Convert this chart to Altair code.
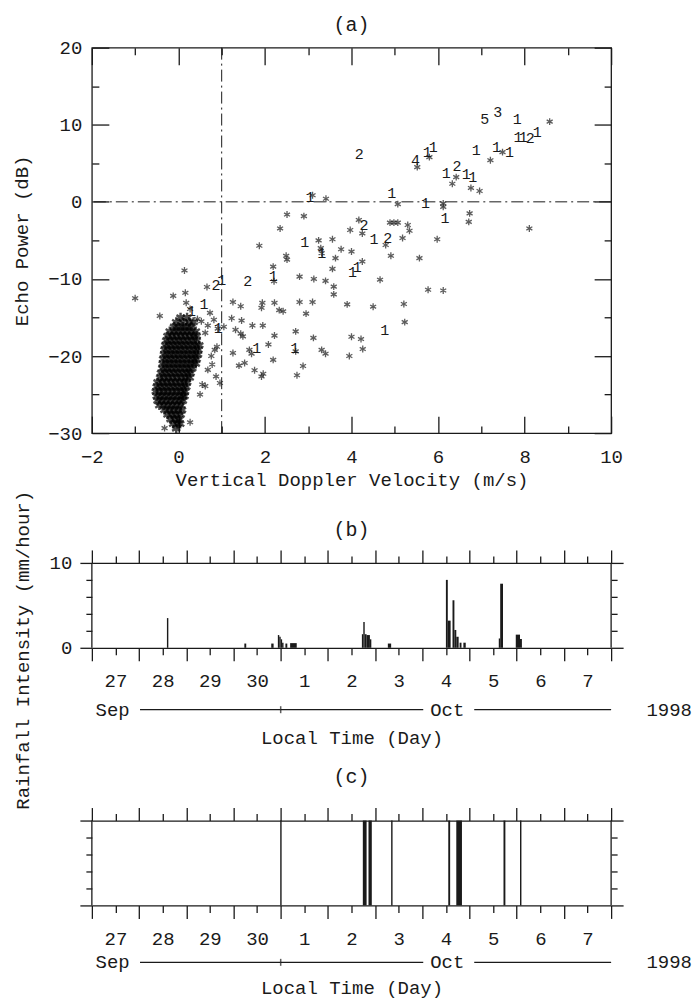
import altair as alt
import pandas as pd

FONT = "Liberation Mono"
INK = "#1a1a1a"

# ---------------- panel (a) data ----------------
x_ticks_a = [-2, 0, 2, 4, 6, 8, 10]
x_minor_a = [-2, -1, 0, 1, 2, 3, 4, 5, 6, 7, 8, 9, 10]
y_ticks_a = [-30, -20, -10, 0, 10, 20]
y_minor_a = [-30, -25, -20, -15, -10, -5, 0, 5, 10, 15, 20]

star_x = [8.58, 5.52, 5.80, 7.21, 7.49, 6.33, 6.42, 6.76, 6.96, 5.07, 6.12, 6.12, 6.73, 6.71, 8.11,
          3.10, 3.41, 2.51, 2.90, 2.35, 4.17, 3.97, 4.25, 4.79, 4.89, 4.98, 5.07, 5.30, 5.34, 5.18,
          5.98, 3.24, 3.56, 3.29, 3.31, 3.76, 4.00, 3.63, 4.91, 5.57, 1.87, 2.49, 2.51, 4.25, 3.56,
          4.66, 0.14, 2.19, 2.21, 0.66, 2.80, 3.13, 3.40, 3.59, 3.59, 5.77, 6.12, -1.00, -0.43, -0.12,
          0.16, 0.18, 0.27, 0.73, 0.82, 1.26, 1.44, 1.23, 1.46, 1.32, 1.44, 1.49, 1.05, 0.91, 1.71,
          1.95, 1.94, 1.92, 2.22, 2.33, 2.42, 2.22, 2.08, 1.64, 1.69, 1.26, 1.40, 1.53, 1.76, 1.92,
          1.96, 2.19, 2.71, 2.71, 2.74, 2.88, 2.80, 3.10, 2.95, 3.12, 3.31, 3.40, 3.90, 4.50, 5.21,
          5.23, 4.00, 4.22, 4.26, 3.95, 0.44, 0.53, 0.62, 0.68, 0.84, 0.89, 0.68, 0.87, 0.55, 0.50,
          0.76, 0.78, 0.62, 0.27, -0.32, 0.96]
star_y = [10.4, 4.5, 5.8, 5.4, 6.45, 2.35, 3.2, 1.8, 1.4, -0.3, -0.2, -0.65, -1.5, -2.6, -3.45,
          0.85, 0.4, -1.65, -1.85, -3.45, -2.35, -3.65, -4.1, -5.6, -2.7, -2.7, -2.7, -3.0, -3.75, -4.7,
          -4.85, -5.0, -4.85, -6.0, -6.65, -6.15, -6.45, -7.3, -7.0, -7.3, -5.7, -7.0, -7.5, -7.75, -8.7,
          -10.1, -8.9, -8.4, -10.3, -11.05, -9.7, -10.0, -10.25, -11.0, -12.0, -11.4, -11.5, -12.5, -14.8, -12.2,
          -11.8, -13.1, -13.9, -14.4, -15.3, -13.0, -13.55, -15.1, -15.4, -16.6, -17.1, -17.45, -16.2, -16.45, -16.05,
          -16.05, -13.1, -13.75, -13.1, -14.05, -14.2, -17.35, -18.5, -19.2, -19.7, -19.6, -21.25, -20.9, -21.85, -22.65,
          -22.3, -20.5, -16.8, -19.4, -22.5, -21.3, -13.0, -13.0, -14.5, -17.65, -19.2, -19.7, -13.3, -13.6, -13.25,
          -15.6, -17.5, -17.8, -19.1, -20.0, -15.2, -15.5, -17.0, -16.05, -19.2, -18.8, -21.8, -22.65, -23.7, -25.0,
          -20.0, -21.1, -23.9, -28.6, -29.35, -23.5]

# dense cluster near zero velocity: one row of x readings per echo-power level
blob_levels = [-15.0, -15.6, -16.2, -16.8, -17.4, -18.0, -18.6, -19.2, -19.8, -20.4, -21.0, -21.6, -22.2,
               -22.8, -23.4, -24.0, -24.6, -25.2, -25.8, -26.4, -27.0, -27.6, -28.2, -28.8, -29.4]
blob_rows = [
    [0.05, 0.2],
    [-0.05, 0.1, 0.25, 0.35],
    [-0.1, 0.0, 0.1, 0.2, 0.3],
    [-0.2, -0.1, 0.0, 0.1, 0.2, 0.3, 0.4],
    [-0.25, -0.15, -0.05, 0.05, 0.15, 0.25, 0.35, 0.42],
    [-0.28, -0.18, -0.08, 0.02, 0.12, 0.22, 0.32, 0.42],
    [-0.3, -0.2, -0.1, 0.0, 0.1, 0.2, 0.3, 0.4, 0.48],
    [-0.32, -0.22, -0.12, -0.02, 0.08, 0.18, 0.28, 0.38, 0.46],
    [-0.33, -0.23, -0.13, -0.03, 0.07, 0.17, 0.27, 0.37, 0.45],
    [-0.35, -0.25, -0.15, -0.05, 0.05, 0.15, 0.25, 0.35, 0.42],
    [-0.36, -0.26, -0.16, -0.06, 0.04, 0.14, 0.24, 0.34, 0.4],
    [-0.37, -0.27, -0.17, -0.07, 0.03, 0.13, 0.23, 0.32],
    [-0.4, -0.3, -0.2, -0.1, 0.0, 0.1, 0.2, 0.28],
    [-0.42, -0.32, -0.22, -0.12, -0.02, 0.08, 0.18, 0.26],
    [-0.48, -0.38, -0.28, -0.18, -0.08, 0.02, 0.12, 0.2],
    [-0.5, -0.4, -0.3, -0.2, -0.1, 0.0, 0.1, 0.18],
    [-0.52, -0.42, -0.32, -0.22, -0.12, -0.02, 0.08, 0.15],
    [-0.5, -0.4, -0.3, -0.2, -0.1, 0.0, 0.1, 0.14],
    [-0.48, -0.38, -0.28, -0.18, -0.08, 0.02, 0.1],
    [-0.44, -0.34, -0.24, -0.14, -0.04, 0.06],
    [-0.32, -0.22, -0.12, -0.02, 0.08],
    [-0.25, -0.15, -0.05, 0.05],
    [-0.18, -0.08, 0.02],
    [-0.12, -0.02, 0.04],
    [-0.05],
]

num_txt = ["5", "3", "1", "2", "4", "1", "1", "1", "1", "1", "1", "1", "2", "1", "1", "2", "1", "1",
           "1", "1", "1", "1", "2", "1", "2", "1", "1", "1", "1", "1", "2", "2", "1", "1", "1", "1",
           "1", "1", "1"]
num_x = [7.08, 7.38, 7.83, 4.18, 5.48, 5.75, 5.89, 6.88, 7.35, 7.65, 7.85, 7.97, 8.13, 8.29, 6.19,
         6.44, 6.65, 6.80, 4.93, 5.71, 6.16, 3.04, 4.29, 4.52, 4.84, 2.92, 3.31, 4.02, 4.13, 2.19,
         1.60, 0.87, 1.00, 0.59, 4.77, 2.69, 1.81, 0.30, 0.92]
num_y = [10.75, 11.6, 10.75, 6.15, 5.4, 6.45, 7.1, 6.75, 7.1, 6.45, 8.4, 8.4, 8.3, 9.0, 3.75,
         4.7, 3.65, 3.2, 1.1, -0.2, -2.15, 0.65, -3.0, -4.85, -4.7, -5.15, -6.65, -9.15, -8.4, -9.6,
         -10.3, -10.75, -10.1, -13.3, -16.6, -19.0, -19.0, -14.2, -16.4]

vline_x = [1.0]
hline_y = [0.0]

# ---------------- panels (b) and (c) data (days since 27 Sep 00:00 LT) ----------------
day_labels = ["27", "28", "29", "30", "1", "2", "3", "4", "5", "6", "7"]
b_y_ticks = [0, 2, 4, 6, 8, 10]
c_y_ticks = [0, 0.2, 0.4, 0.6, 0.8, 1.0]

rain_start = [1.59, 3.23, 3.80, 3.94, 3.97, 4.00, 4.03, 4.10, 4.20, 5.72, 5.75, 5.78, 5.82, 5.89, 6.27,
              7.50, 7.54, 7.64, 7.68, 7.72, 7.79, 7.87, 8.62, 8.65, 8.98, 9.07]
rain_end = [1.62, 3.27, 3.85, 3.97, 4.00, 4.03, 4.06, 4.14, 4.34, 5.75, 5.78, 5.82, 5.89, 5.92, 6.34,
            7.54, 7.60, 7.68, 7.72, 7.77, 7.83, 7.92, 8.65, 8.71, 9.07, 9.11]
rain_val = [3.5, 0.5, 0.5, 1.5, 1.3, 1.0, 0.6, 0.5, 0.55, 1.6, 3.05, 1.6, 1.5, 1.0, 0.5,
            8.0, 3.2, 5.6, 2.1, 1.3, 0.6, 0.6, 1.1, 7.55, 1.55, 1.05]

evt_start = [3.99, 5.74, 5.86, 6.34, 7.55, 7.72, 8.72, 9.07]
evt_end = [4.02, 5.82, 5.93, 6.37, 7.59, 7.84, 8.76, 9.10]

month_text = ["Sep", "Oct", "1998"]
month_pos = [0.44, 7.53, 12.23]
seg_start = [1.02, 4.0, 8.10]
seg_end = [4.0, 7.02, 11.0]
month_split = [4.0]

# ---------------- layout ----------------
W = 520
HA = 386
HP = 85          # drawn height of panels (b) and (c)
HB = 128         # layout height of panel (b) (extra room below its box)
SPACING = 130
STAR = "M0,-1L0,1M-0.87,-0.5L0.87,0.5M-0.87,0.5L0.87,-0.5"

blob_x, blob_y = [], []
for lvl, row in zip(blob_levels, blob_rows):
    blob_x += row
    blob_y += [lvl] * len(row)
pts = pd.DataFrame({"v": star_x, "p": star_y})
blob = pd.DataFrame({"v": blob_x, "p": blob_y})
nums = pd.DataFrame({"v": num_x, "p": num_y, "t": num_txt})

xs_a = alt.Scale(domain=[x_ticks_a[0], x_ticks_a[-1]], nice=False, zero=False)
ys_a = alt.Scale(domain=[y_ticks_a[0], y_ticks_a[-1]], nice=False, zero=False)
tx_a = {"condition": {"test": "datum.value % 2 === 0", "value": 17}, "value": 7}
ty_a = {"condition": {"test": "datum.value % 10 === 0", "value": 17}, "value": 7}

a_points = alt.Chart(pts).mark_point(shape=STAR, size=48, filled=False, strokeWidth=1.3, color=INK).encode(
    x=alt.X("v:Q", scale=xs_a, axis=alt.Axis(orient="bottom", values=x_ticks_a, ticks=False, domain=False,
                                              grid=False, labelPadding=14, labelFlush=False,
                                              title="Vertical Doppler Velocity (m/s)", titlePadding=4)),
    y=alt.Y("p:Q", scale=ys_a, axis=alt.Axis(orient="left", values=y_ticks_a, ticks=False, domain=False,
                                              grid=False, labelPadding=10, labelFlush=False,
                                              title="Echo Power (dB)", titlePadding=16)),
)
a_blob = alt.Chart(blob).mark_point(shape=STAR, size=90, filled=False, strokeWidth=2.4, color="#000").encode(
    x=alt.X("v:Q", scale=xs_a, axis=None), y=alt.Y("p:Q", scale=ys_a, axis=None))
a_in1 = alt.Chart(pts).mark_point(opacity=0).encode(
    x=alt.X("v:Q", scale=xs_a, axis=alt.Axis(orient="top", offset=-HA, values=x_minor_a, tickSize=tx_a,
                                              labels=False, domain=False, grid=False, title=None)),
    y=alt.Y("p:Q", scale=ys_a, axis=alt.Axis(orient="right", offset=-W, values=y_minor_a, tickSize=ty_a,
                                              labels=False, domain=False, grid=False, title=None)),
)
a_in2 = alt.Chart(pts).mark_point(opacity=0).encode(
    x=alt.X("v:Q", scale=xs_a, axis=alt.Axis(orient="bottom", offset=-HA, values=x_minor_a, tickSize=tx_a,
                                              labels=False, domain=False, grid=False, title=None)),
    y=alt.Y("p:Q", scale=ys_a, axis=alt.Axis(orient="left", offset=-W, values=y_minor_a, tickSize=ty_a,
                                              labels=False, domain=False, grid=False, title=None)),
)
a_vline = alt.Chart(pd.DataFrame({"v": vline_x})).mark_rule(color=INK, strokeWidth=1, strokeDash=[12, 4, 2, 4]).encode(
    x=alt.X("v:Q", scale=xs_a, axis=None))
a_hline = alt.Chart(pd.DataFrame({"p": hline_y})).mark_rule(color=INK, strokeWidth=1, strokeDash=[12, 4, 2, 4]).encode(
    y=alt.Y("p:Q", scale=ys_a, axis=None))
a_nums = alt.Chart(nums).mark_text(font=FONT, fontSize=15, color=INK).encode(
    x=alt.X("v:Q", scale=xs_a, axis=None), y=alt.Y("p:Q", scale=ys_a, axis=None), text="t:N")

panel_a = alt.layer(a_points, a_blob, a_in1, a_in2, a_vline, a_hline, a_nums).resolve_axis(
    x="independent", y="independent").properties(
    width=W, height=HA, title=alt.TitleParams("(a)", offset=4))

# ---- shared time-axis helpers ----
ts = alt.Scale(domain=[0, len(day_labels)], nice=False, zero=False)
t_ticks = [i / 2 for i in range(2 * len(day_labels) + 1)]
t_size = {"condition": {"test": "datum.value % 1 === 0", "value": 13}, "value": 7}
day_arr = "[" + ",".join("'" + d + "'" for d in day_labels) + "]"
day_expr = "datum.value % 1 === 0 ? '' : " + day_arr + "[floor(datum.value)]"

month_df = pd.DataFrame({"m": month_pos, "n": month_text})
seg_df = pd.DataFrame({"s": seg_start, "e": seg_end})
split_df = pd.DataFrame({"s": month_split})


def month_row(ypix):
    txt = alt.Chart(month_df).mark_text(font=FONT, fontSize=19, color=INK, baseline="middle").encode(
        x=alt.X("m:Q", scale=ts, axis=None), y=alt.value(ypix), text="n:N")
    seg = alt.Chart(seg_df).mark_rule(color=INK, strokeWidth=1.2).encode(
        x=alt.X("s:Q", scale=ts, axis=None), x2="e:Q", y=alt.value(ypix))
    spl = alt.Chart(split_df).mark_tick(color=INK, size=7, thickness=1.5).encode(
        x=alt.X("s:Q", scale=ts, axis=None), y=alt.value(ypix))
    return [seg, spl, txt]


# ---------------- panel (b) ----------------
unit_b = HP / b_y_ticks[-1]
ys_b = alt.Scale(domain=[b_y_ticks[-1] - HB / unit_b, b_y_ticks[-1]], nice=False, zero=False)
b_ysize = {"condition": {"test": "datum.value === 0 || datum.value === 10", "value": 12}, "value": 6}
rain_df = pd.DataFrame({"s": rain_start, "e": rain_end, "r": rain_val})

b_bars = alt.Chart(rain_df).mark_rect(color=INK).encode(
    x=alt.X("s:Q", scale=ts, axis=alt.Axis(orient="bottom", offset=-(HB - HP), values=t_ticks, tickSize=t_size,
                                            labelExpr=day_expr, labelPadding=17, labelFlush=False,
                                            labelOverlap=False, grid=False, title="Local Time (Day)",
                                            titlePadding=32)),
    x2="e:Q",
    y=alt.Y("r:Q", scale=ys_b, axis=alt.Axis(orient="left", values=b_y_ticks, tickSize=b_ysize,
                                              labelExpr="datum.value === 0 || datum.value === 10 ? datum.label : ''",
                                              labelPadding=8, domain=False, grid=False,
                                              title="Rainfall Intensity (mm/hour)", titleY=87, titlePadding=17)),
    y2=alt.datum(0),
)
b_side_df = pd.DataFrame({"t": [0, len(day_labels)], "lo": [b_y_ticks[0]] * 2, "hi": [b_y_ticks[-1]] * 2})
b_sides = alt.Chart(b_side_df).mark_rule(color=INK, strokeWidth=1.3).encode(
    x=alt.X("t:Q", scale=ts, axis=alt.Axis(orient="top", values=t_ticks, tickSize=t_size, labels=False,
                                            grid=False, title=None)),
    y=alt.Y("lo:Q", scale=ys_b, axis=alt.Axis(orient="right", values=b_y_ticks, tickSize=b_ysize, labels=False,
                                               domain=False, grid=False, title=None)),
    y2="hi:Q",
)
panel_b = alt.layer(b_bars, b_sides, *month_row(HP + 62)).resolve_axis(
    x="independent", y="independent").properties(
    width=W, height=HB, title=alt.TitleParams("(b)", offset=10, dy=60),
    view=alt.ViewBackground(stroke="transparent"))

# ---------------- panel (c) ----------------
ys_c = alt.Scale(domain=[c_y_ticks[0], c_y_ticks[-1]], nice=False, zero=False)
c_ysize = {"condition": {"test": "datum.value === 0 || datum.value === 1", "value": 12}, "value": 6}
evt_df = pd.DataFrame({"s": evt_start, "e": evt_end})

c_bars = alt.Chart(evt_df).mark_rect(color=INK).transform_calculate(lo="0", hi="1").encode(
    x=alt.X("s:Q", scale=ts, axis=alt.Axis(orient="bottom", values=t_ticks, tickSize=t_size,
                                            labelExpr=day_expr, labelPadding=17, labelFlush=False,
                                            labelOverlap=False, grid=False, title="Local Time (Day)",
                                            titlePadding=24)),
    x2="e:Q",
    y=alt.Y("lo:Q", scale=ys_c, axis=alt.Axis(orient="left", values=c_y_ticks, tickSize=c_ysize, labels=False,
                                               domain=False, grid=False, title=None)),
    y2="hi:Q",
)
c_side_df = pd.DataFrame({"t": [0, len(day_labels)], "lo": [c_y_ticks[0]] * 2, "hi": [c_y_ticks[-1]] * 2})
c_sides = alt.Chart(c_side_df).mark_rule(color=INK, strokeWidth=1.3).encode(
    x=alt.X("t:Q", scale=ts, axis=alt.Axis(orient="top", values=t_ticks, tickSize=t_size, labels=False,
                                            grid=False, title=None)),
    y=alt.Y("lo:Q", scale=ys_c, axis=alt.Axis(orient="right", values=c_y_ticks, tickSize=c_ysize, labels=False,
                                               domain=False, grid=False, title=None)),
    y2="hi:Q",
)
panel_c = alt.layer(c_bars, c_sides, *month_row(HP + 57)).resolve_axis(
    x="independent", y="independent").properties(
    width=W, height=HP, title=alt.TitleParams("(c)", offset=20),
    view=alt.ViewBackground(stroke="transparent"))

chart = alt.vconcat(panel_a, panel_b, panel_c, spacing=SPACING, bounds="flush").properties(
    autosize=alt.AutoSizeParams(type="pad"),
    padding={"left": 12, "top": 13, "right": 2, "bottom": 8},
    background="white",
).configure_view(stroke=INK, strokeWidth=1.3).configure_axis(
    labelFont=FONT, titleFont=FONT, labelFontSize=19, titleFontSize=19, labelColor=INK, titleColor=INK,
    tickColor=INK, domainColor=INK, tickWidth=1.3, domainWidth=1.3, titleFontWeight="normal",
).configure_title(font=FONT, fontSize=20, fontWeight="normal", color=INK, anchor="middle")

chart.save("out.html", embed_options={"renderer": "svg", "actions": False})
